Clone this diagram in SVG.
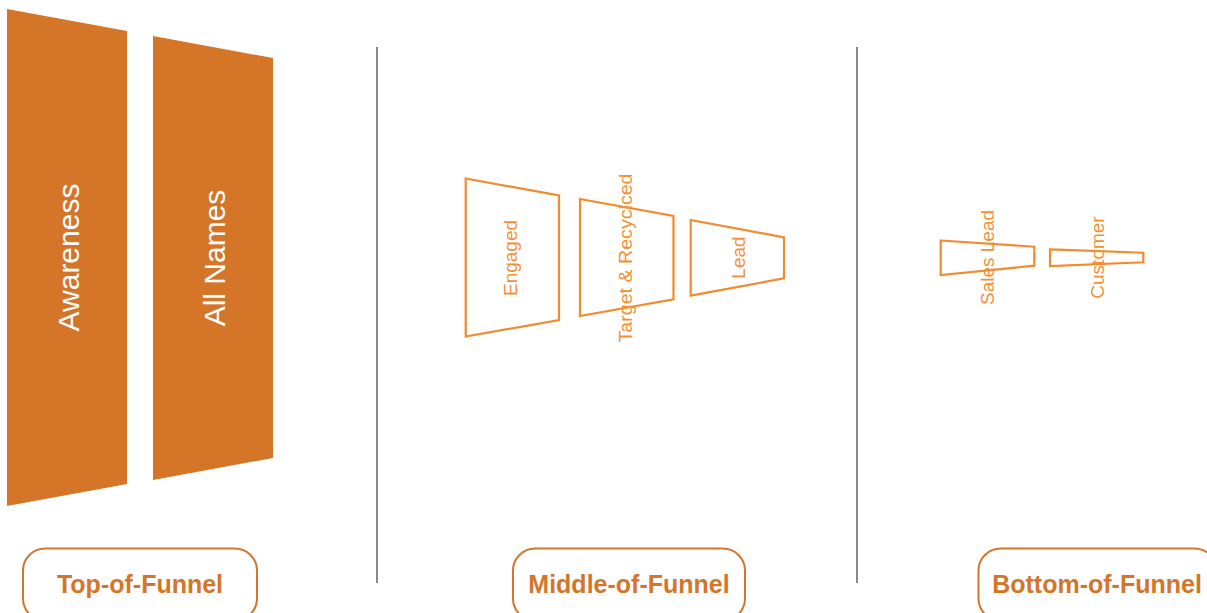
<svg xmlns="http://www.w3.org/2000/svg" width="1207" height="613" viewBox="0 0 1207 613">
<style>
.fill{fill:#D47527;stroke:none}
.out{fill:none;stroke:#F28A2E;stroke-width:2.2}
.wt{fill:#FFFFFF;font-family:"Liberation Sans",Arial,sans-serif;font-size:30px;text-anchor:middle}
.ot{fill:#F39036;font-family:"Liberation Sans",Arial,sans-serif;font-size:19px;text-anchor:middle}
.pill{fill:#FFFFFF;stroke:#D4762A;stroke-width:2}
.pt{fill:#D4762A;font-family:"Liberation Sans",Arial,sans-serif;font-size:25px;font-weight:bold;text-anchor:middle}
.div{stroke:#4A4A4A;stroke-width:1.3}
</style>
<rect width="1207" height="613" fill="#FFFFFF"/>
<g id="dividers">
<line class="div" x1="377" y1="47" x2="377" y2="583"/>
<line class="div" x1="857" y1="47" x2="857" y2="583"/>
</g>
<g id="awareness">
<polygon class="fill" points="7,9 127,31 127,484 7,506"/>
<text class="wt" transform="translate(79,257.5) rotate(-90)">Awareness</text>
</g>
<g id="all-names">
<polygon class="fill" points="153,36 273,58 273,458 153,480"/>
<text class="wt" transform="translate(225,258) rotate(-90)">All Names</text>
</g>
<g id="engaged">
<polygon class="out" points="465.7,178.5 559,195.5 559,320 465.7,336.5"/>
<text class="ot" transform="translate(516.5,258) rotate(-90)">Engaged</text>
</g>
<g id="target-recycled">
<polygon class="out" points="580,199 673.5,216 673.5,299.3 580,316"/>
<text class="ot" transform="translate(631.5,258) rotate(-90)" textLength="169" lengthAdjust="spacingAndGlyphs">Target &amp; Recyclced</text>
</g>
<g id="lead">
<polygon class="out" points="690.7,220 784,237.3 784,278.3 690.7,295.7"/>
<text class="ot" transform="translate(744.5,257.5) rotate(-90)">Lead</text>
</g>
<g id="sales-lead">
<polygon class="out" points="940.7,240.5 1034.3,246.7 1034.3,265.7 940.7,275"/>
<text class="ot" transform="translate(993.5,257.5) rotate(-90)">Sales Lead</text>
</g>
<g id="customer">
<polygon class="out" points="1050,249.3 1143.3,252.7 1143.3,262.3 1050,266"/>
<text class="ot" transform="translate(1103.5,257.5) rotate(-90)">Customer</text>
</g>
<g id="top-of-funnel">
<rect class="pill" x="23" y="548.5" width="234" height="72" rx="22"/>
<text class="pt" x="140" y="593">Top-of-Funnel</text>
</g>
<g id="middle-of-funnel">
<rect class="pill" x="513" y="548.5" width="232" height="72" rx="22"/>
<text class="pt" x="629" y="593">Middle-of-Funnel</text>
</g>
<g id="bottom-of-funnel">
<rect class="pill" x="978.5" y="548.5" width="238" height="72" rx="22"/>
<text class="pt" x="1097" y="593">Bottom-of-Funnel</text>
</g>
</svg>
